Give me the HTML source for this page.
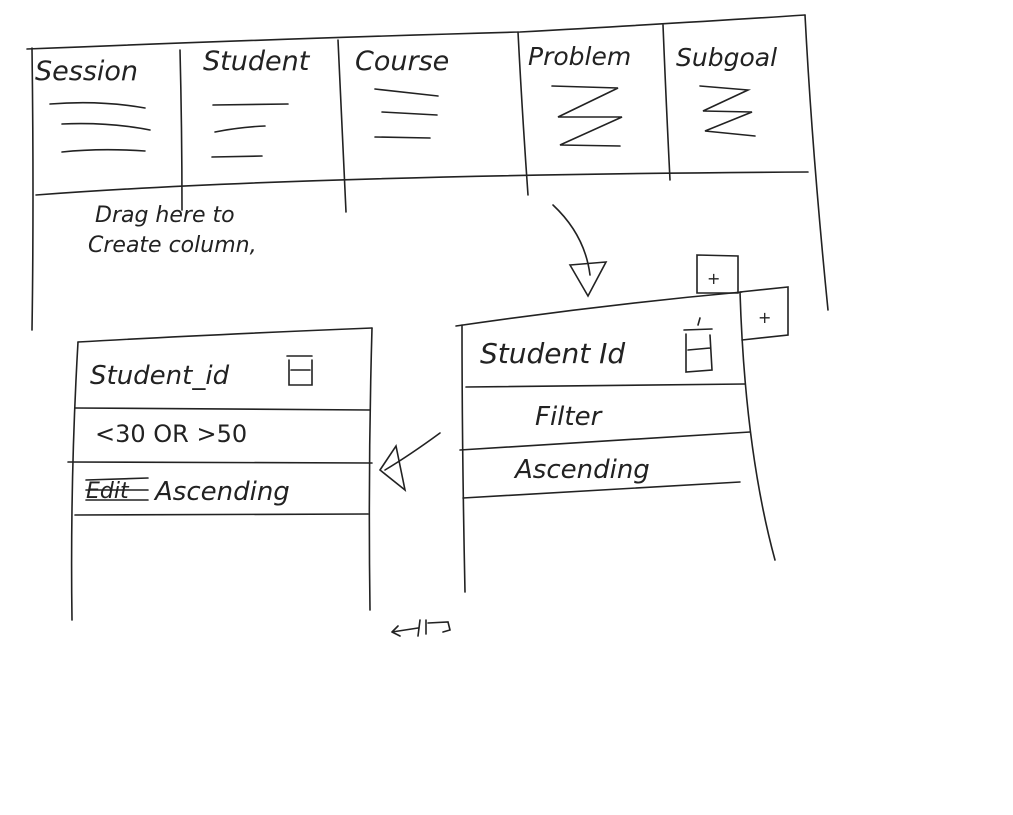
<!DOCTYPE html>
<html><head><style>
html,body{margin:0;padding:0;background:#fff;}
svg{display:block;}
text{font-family:"DejaVu Sans","Liberation Sans",sans-serif;fill:#222;font-style:italic;}
</style></head><body>
<svg width="1013" height="815" viewBox="0 0 1013 815" xmlns="http://www.w3.org/2000/svg">
<g stroke="#222" stroke-width="1.6" fill="none" stroke-linecap="round">
<!-- top table -->
<path d="M27,49 Q300,38 520,32 Q700,22 805,15"/>
<path d="M32,48 Q34,200 32,330"/>
<path d="M36,195 Q300,175 808,172"/>
<path d="M805,15 Q812,150 828,310"/>
<path d="M180,50 Q182,130 182,210"/>
<path d="M338,40 Q342,130 346,212"/>
<path d="M518,32 Q522,110 528,195"/>
<path d="M663,25 Q666,100 670,180"/>
<!-- content lines -->
<path d="M50,104 Q100,100 145,108"/><path d="M62,124 Q110,122 150,130"/><path d="M62,152 Q100,148 145,151"/>
<path d="M213,105 L288,104"/><path d="M215,132 Q240,127 265,126"/><path d="M212,157 L262,156"/>
<path d="M375,89 L438,96"/><path d="M382,112 L437,115"/><path d="M375,137 L430,138"/>
<path d="M552,86 L618,88 L558,117 L622,117 L560,145 L620,146"/>
<path d="M700,86 L748,90 L703,111 L752,112 L705,131 L755,136"/>
<!-- arrow down -->
<path d="M553,205 Q585,235 590,275"/>
<path d="M570,265 L606,262 L588,296 Z"/>
<!-- right panel -->
<path d="M456,326 Q600,305 742,292"/>
<path d="M462,325 Q462,450 465,592"/>
<path d="M740,292 Q745,450 775,560"/>
<path d="M466,387 L745,384"/><path d="M460,450 L750,432"/><path d="M463,498 L740,482"/>
<path d="M697,255 L738,256 L738,293 L697,293 Z"/>
<path d="M740,292 L788,287 L788,335 L742,340"/>
<path d="M684,330 L712,329 M686,334 L686,372 L712,370 L710,335 M688,350 L710,348 M698,325 L700,318"/>
<!-- left panel -->
<path d="M78,342 Q200,335 372,328"/>
<path d="M78,342 Q70,480 72,620"/>
<path d="M372,328 Q368,470 370,610"/>
<path d="M75,408 L370,410"/><path d="M68,462 L372,463"/><path d="M75,515 L368,514"/>
<path d="M287,356 L312,356 M289,360 L289,385 L312,385 L312,360 M291,370 L310,370"/>
<!-- arrow left -->
<path d="M440,433 Q410,455 385,470"/>
<path d="M380,470 L396,446 L405,490 Z"/>
<!-- strike -->
<path d="M86,480 L148,478 M86,490 L148,490 M86,500 L148,500"/>
<!-- resize -->
<path d="M392,632 L418,628 M392,632 L398,626 M392,632 L400,636 M420,620 L418,636 M426,620 L426,634 M428,623 L448,622 L450,630 L443,632"/>
</g>
<g font-size="27">
<text x="35" y="80">Session</text>
<text x="203" y="70">Student</text>
<text x="355" y="70">Course</text>
<text x="528" y="65" font-size="25">Problem</text>
<text x="676" y="66" font-size="25">Subgoal</text>
<text x="95" y="222" font-size="22">Drag here to</text>
<text x="88" y="252" font-size="22">Create column,</text>
<text x="480" y="363" font-size="28">Student Id</text>
<text x="535" y="425" font-size="26">Filter</text>
<text x="515" y="478" font-size="26">Ascending</text>
<text x="90" y="384" font-size="26">Student_id</text>
<text x="95" y="442" font-size="24" style="font-style:normal">&lt;30  OR   &gt;50</text>
<text x="86" y="498" font-size="22">Edit</text>
<text x="155" y="500" font-size="26">Ascending</text>
<text x="707" y="284" font-size="16">+</text>
<text x="758" y="323" font-size="16">+</text>
</g>
</svg>
</body></html>
